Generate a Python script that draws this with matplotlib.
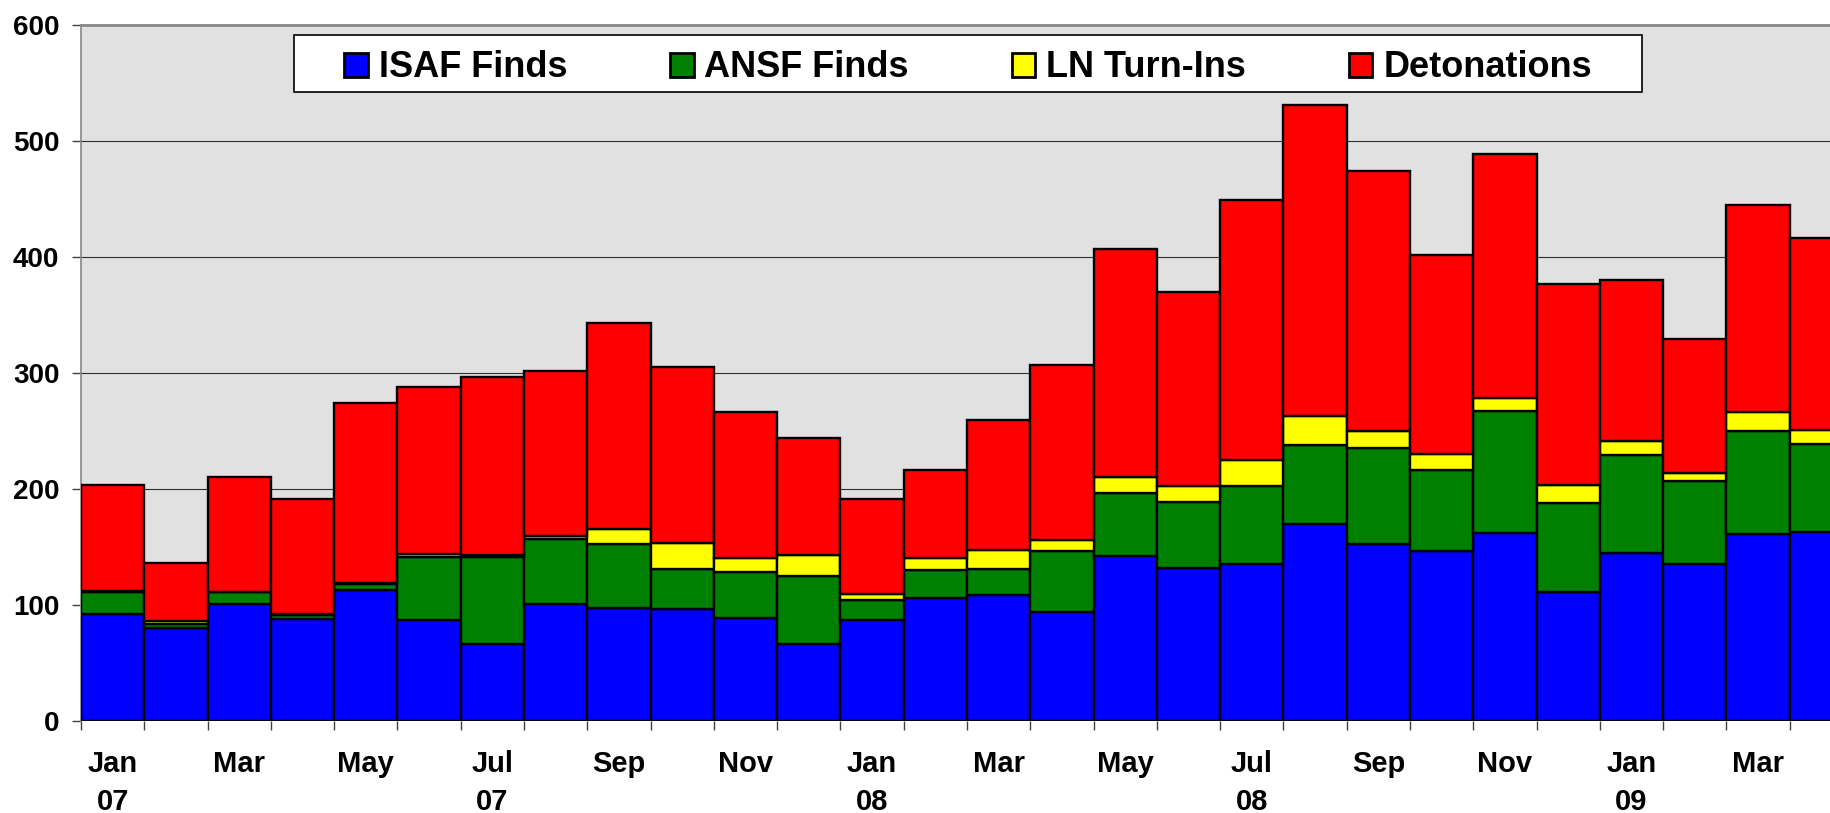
import numpy as np
import matplotlib
matplotlib.use('Agg')
import matplotlib.pyplot as plt
from matplotlib.patches import Rectangle

plt.rcParams['font.family'] = ['Liberation Sans', 'DejaVu Sans']
plt.rcParams['font.weight'] = 'bold'

# monthly data, Jan 07 .. Apr 09
months = ['Jan\n07', 'Feb', 'Mar', 'Apr', 'May', 'Jun', 'Jul\n07', 'Aug', 'Sep', 'Oct', 'Nov', 'Dec',
          'Jan\n08', 'Feb', 'Mar', 'Apr', 'May', 'Jun', 'Jul\n08', 'Aug', 'Sep', 'Oct', 'Nov', 'Dec',
          'Jan\n09', 'Feb', 'Mar', 'Apr']
isaf = [92, 80, 101, 88, 113, 87, 66, 101, 97, 96, 89, 66,
        87, 106, 108, 94, 142, 132, 135, 170, 152, 146, 162, 111,
        145, 135, 161, 163]
ansf = [19, 3, 10, 3, 5, 54, 75, 56, 55, 35, 39, 59,
        17, 24, 23, 52, 54, 57, 67, 68, 83, 70, 105, 77,
        84, 72, 89, 76]
ln = [1, 3, 0, 1, 1, 3, 2, 2, 13, 22, 12, 18,
      5, 10, 16, 10, 14, 13, 23, 25, 15, 14, 11, 15,
      12, 7, 16, 12]
deton = [91, 50, 99, 99, 155, 144, 153, 143, 178, 152, 126, 101,
         82, 76, 112, 151, 197, 168, 224, 268, 224, 172, 211, 174,
         139, 115, 179, 165]

series = [('ISAF Finds', isaf, '#0000FF'),
          ('ANSF Finds', ansf, '#008000'),
          ('LN Turn-Ins', ln, '#FFFF00'),
          ('Detonations', deton, '#FF0000')]

fig = plt.figure(figsize=(18.3, 8.13), dpi=100)
ax = fig.add_axes([0.04426, 0.11353, 0.9683, 0.8557])
ax.set_facecolor('#E1E1E1')

x = np.arange(len(months))
bottom = np.zeros(len(months))
for name, vals, col in series:
    ax.bar(x, vals, width=1.0, bottom=bottom, color=col, edgecolor='black',
           linewidth=1.7, label=name, zorder=3)
    bottom = bottom + np.array(vals)

ax.set_xlim(-0.5, len(months) - 0.5)
ax.set_ylim(0, 600)
ax.set_yticks(range(0, 601, 100))
ax.yaxis.grid(True, color='#303030', linewidth=0.8, zorder=0)
ax.set_axisbelow(True)

# tick marks at bar boundaries, labels every other month
ax.set_xticks(np.arange(-0.5, len(months), 1.0))
ax.set_xticklabels([])
ax.set_xticks(x[::2], minor=True)
ax.set_xticklabels(months[::2], minor=True, fontsize=21, fontweight='bold', linespacing=1.45)
ax.tick_params(axis='x', which='minor', length=0, pad=21)
ax.tick_params(axis='x', which='major', length=6.5, width=1, color='#404040')
ax.tick_params(axis='y', length=6.5, width=1, color='#404040', pad=9, labelsize=20)
for t in ax.get_yticklabels():
    t.set_fontweight('bold')

for s in ['right', 'bottom']:
    ax.spines[s].set_visible(False)
ax.spines['top'].set_color('#888888')
ax.spines['top'].set_linewidth(2)
ax.spines['left'].set_color('#888888')
ax.spines['left'].set_linewidth(1.2)

# legend box
fig.patches.append(Rectangle((0.1607, 0.8868), 0.7366, 0.0701, transform=fig.transFigure,
                             facecolor='white', edgecolor='black', linewidth=1.2, zorder=5))
leg = fig.legend(loc='center', bbox_to_anchor=(0.529, 0.9165), ncol=4, frameon=False,
                 prop={'size': 26, 'weight': 'bold'}, handlelength=0.65, handleheight=0.65,
                 handletextpad=0.3, columnspacing=2.85)
leg.set_zorder(6)
for h in leg.legend_handles:
    h.set_linewidth(2)

plt.savefig('out.png', dpi=100)
